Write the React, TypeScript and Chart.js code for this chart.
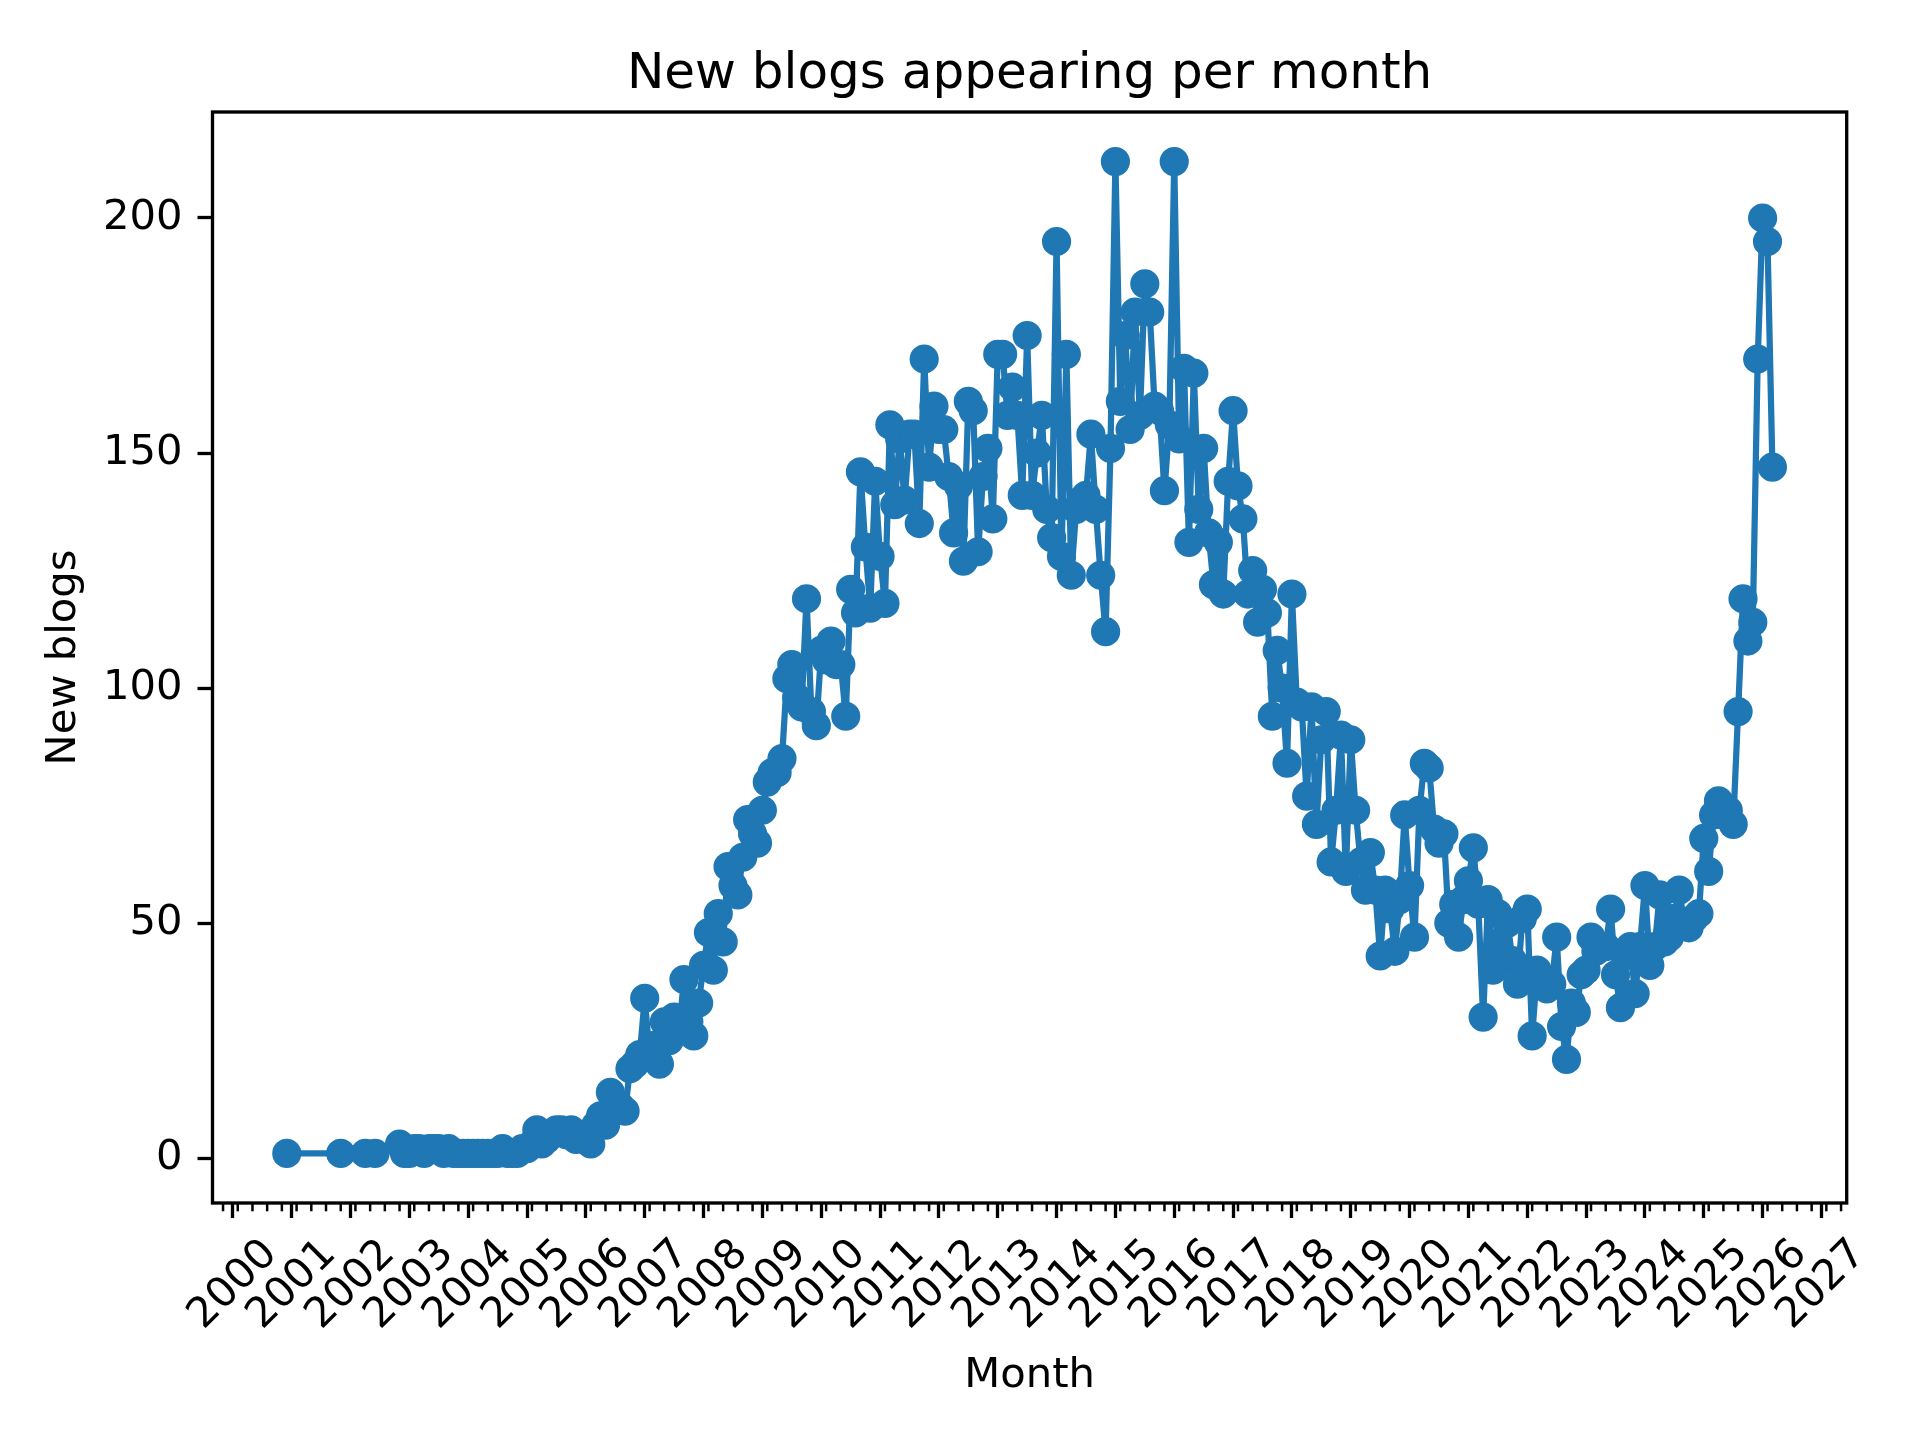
import { useEffect, useRef } from "react"
import { Chart, registerables } from "chart.js"

Chart.register(...registerables)

// month of each observation (YYYY-MM), early years are sparse
const months = [
  "2000-12",
  "2001-11",
  "2002-04", "2002-06", "2002-11", "2002-12",
  "2003-01", "2003-02", "2003-03", "2003-04", "2003-05", "2003-06", "2003-07", "2003-08", "2003-09", "2003-10", "2003-11", "2003-12",
  "2004-01", "2004-02", "2004-03", "2004-04", "2004-05", "2004-06", "2004-07", "2004-08", "2004-09", "2004-10", "2004-11", "2004-12",
  "2005-01", "2005-02", "2005-03", "2005-04", "2005-05", "2005-06", "2005-07", "2005-08", "2005-09", "2005-10", "2005-11", "2005-12",
  "2006-01", "2006-02", "2006-03", "2006-04", "2006-05", "2006-06", "2006-07", "2006-08", "2006-09", "2006-10", "2006-11", "2006-12",
  "2007-01", "2007-02", "2007-03", "2007-04", "2007-05", "2007-06", "2007-07", "2007-08", "2007-09", "2007-10", "2007-11", "2007-12",
  "2008-01", "2008-02", "2008-03", "2008-04", "2008-05", "2008-06", "2008-07", "2008-08", "2008-09", "2008-10", "2008-11", "2008-12",
  "2009-01", "2009-02", "2009-03", "2009-04", "2009-05", "2009-06", "2009-07", "2009-08", "2009-09", "2009-10", "2009-11", "2009-12",
  "2010-01", "2010-02", "2010-03", "2010-04", "2010-05", "2010-06", "2010-07", "2010-08", "2010-09", "2010-10", "2010-11", "2010-12",
  "2011-01", "2011-02", "2011-03", "2011-04", "2011-05", "2011-06", "2011-07", "2011-08", "2011-09", "2011-10", "2011-11", "2011-12",
  "2012-01", "2012-02", "2012-03", "2012-04", "2012-05", "2012-06", "2012-07", "2012-08", "2012-09", "2012-10", "2012-11", "2012-12",
  "2013-01", "2013-02", "2013-03", "2013-04", "2013-05", "2013-06", "2013-07", "2013-08", "2013-09", "2013-10", "2013-11", "2013-12",
  "2014-01", "2014-02", "2014-03", "2014-04", "2014-05", "2014-06", "2014-07", "2014-08", "2014-09", "2014-10", "2014-11", "2014-12",
  "2015-01", "2015-02", "2015-03", "2015-04", "2015-05", "2015-06", "2015-07", "2015-08", "2015-09", "2015-10", "2015-11", "2015-12",
  "2016-01", "2016-02", "2016-03", "2016-04", "2016-05", "2016-06", "2016-07", "2016-08", "2016-09", "2016-10", "2016-11", "2016-12",
  "2017-01", "2017-02", "2017-03", "2017-04", "2017-05", "2017-06", "2017-07", "2017-08", "2017-09", "2017-10", "2017-11", "2017-12",
  "2018-01", "2018-02", "2018-03", "2018-04", "2018-05", "2018-06", "2018-07", "2018-08", "2018-09", "2018-10", "2018-11", "2018-12",
  "2019-01", "2019-02", "2019-03", "2019-04", "2019-05", "2019-06", "2019-07", "2019-08", "2019-09", "2019-10", "2019-11", "2019-12",
  "2020-01", "2020-02", "2020-03", "2020-04", "2020-05", "2020-06", "2020-07", "2020-08", "2020-09", "2020-10", "2020-11", "2020-12",
  "2021-01", "2021-02", "2021-03", "2021-04", "2021-05", "2021-06", "2021-07", "2021-08", "2021-09", "2021-10", "2021-11", "2021-12",
  "2022-01", "2022-02", "2022-03", "2022-04", "2022-05", "2022-06", "2022-07", "2022-08", "2022-09", "2022-10", "2022-11", "2022-12",
  "2023-01", "2023-02", "2023-03", "2023-04", "2023-05", "2023-06", "2023-07", "2023-08", "2023-09", "2023-10", "2023-11", "2023-12",
  "2024-01", "2024-02", "2024-03", "2024-04", "2024-05", "2024-06", "2024-07", "2024-08", "2024-09", "2024-10", "2024-11", "2024-12",
  "2025-01", "2025-02", "2025-03", "2025-04", "2025-05", "2025-06", "2025-07", "2025-08", "2025-09", "2025-10", "2025-11", "2025-12",
  "2026-01", "2026-02", "2026-03",
]

const newBlogs = [
  1,
  1,
  1, 1, 3, 1,
  1, 2, 2, 1, 2, 2, 2, 1, 2, 1, 1, 1,
  1, 1, 1, 1, 1, 1, 1, 2, 1, 1, 1, 2,
  2, 3, 6, 3, 4, 5, 6, 6, 5, 6, 4, 5,
  4, 3, 7, 9, 7, 14, 10, 11, 10, 19, 20, 22,
  34, 22, 24, 20, 29, 25, 30, 27, 38, 29, 26, 33,
  41, 48, 40, 52, 46, 62, 58, 56, 64, 72, 69, 67,
  74, 80, 82, 82, 85, 102, 105, 98, 96, 119, 95, 92,
  108, 106, 110, 105, 105, 94, 121, 116, 146, 130, 117, 144,
  128, 118, 156, 139, 153, 140, 154, 154, 135, 170, 147, 160,
  155, 155, 145, 133, 143, 127, 161, 159, 129, 145, 151, 136,
  171, 171, 158, 164, 158, 141, 175, 141, 150, 158, 138, 132,
  195, 128, 171, 124, 138, 140, 141, 154, 138, 124, 112, 151,
  212, 161, 175, 155, 180, 158, 186, 180, 160, 159, 142, 156,
  212, 153, 168, 131, 167, 138, 151, 133, 122, 131, 120, 144,
  159, 143, 136, 120, 125, 114, 121, 116, 94, 108, 100, 84,
  120, 97, 96, 77, 96, 71, 89, 95, 63, 74, 90, 61,
  89, 74, 63, 57, 65, 57, 43, 57, 53, 44, 55, 73,
  58, 47, 74, 84, 83, 70, 67, 69, 50, 54, 47, 55,
  59, 66, 54, 30, 55, 40, 52, 43, 50, 42, 37, 51,
  53, 26, 40, 37, 36, 37, 47, 28, 21, 33, 31, 39,
  40, 47, 44, 45, 45, 53, 39, 32, 43, 45, 35, 45,
  58, 41, 45, 56, 46, 47, 51, 57, 50, 49, 51, 52,
  68, 61, 73, 76, 73, 74, 71, 95, 119, 110, 114, 170,
  200, 195, 147,
]

const yearTicks = [
  2000, 2001, 2002, 2003, 2004, 2005, 2006, 2007, 2008, 2009, 2010, 2011, 2012, 2013,
  2014, 2015, 2016, 2017, 2018, 2019, 2020, 2021, 2022, 2023, 2024, 2025, 2026, 2027,
]
const countTicks = [0, 50, 100, 150, 200]
const minorTickMonths = [2, 5, 8, 11]

const FONT = "DejaVu Sans"
const BLUE = "#1f77b4"

const toYear = (m: string) => {
  const [y, mo] = m.split("-").map(Number)
  return y + (mo - 1) / 12
}

// matplotlib style frame and quarterly minor ticks
const framePlugin = {
  id: "frame",
  afterDraw(chart: Chart) {
    const { ctx, chartArea: a } = chart
    const xs = chart.scales.x
    ctx.save()
    ctx.strokeStyle = "#000"
    ctx.lineWidth = 2.5
    for (let y = Math.floor(xs.min); y <= Math.ceil(xs.max); y++) {
      for (const m of minorTickMonths) {
        const v = y + (m - 1) / 12
        if (v < xs.min || v > xs.max) continue
        const px = xs.getPixelForValue(v)
        ctx.beginPath()
        ctx.moveTo(px, a.bottom)
        ctx.lineTo(px, a.bottom + 8.3)
        ctx.stroke()
      }
    }
    ctx.lineWidth = 3.33
    ctx.strokeRect(a.left, a.top, a.right - a.left, a.bottom - a.top)
    ctx.restore()
  },
}

export default function App() {
  const chartRef = useRef<HTMLCanvasElement | null>(null)
  const chartInstance = useRef<Chart | null>(null)

  useEffect(() => {
    document.body.style.margin = "0"
    if (!chartRef.current) return
    const ctx = chartRef.current.getContext("2d")
    if (!ctx) return
    if (chartInstance.current) chartInstance.current.destroy()

    const xs = months.map(toYear)
    const xSpan = xs[xs.length - 1] - xs[0]
    const yLo = Math.min(...newBlogs)
    const yHi = Math.max(...newBlogs)
    const ySpan = yHi - yLo

    const tickFont = { family: FONT, size: 41.7, weight: "normal" as const }
    const grid = {
      drawOnChartArea: false,
      drawTicks: true,
      tickLength: 15,
      tickWidth: 3.3,
      tickColor: "#000",
    }

    chartInstance.current = new Chart(ctx, {
      type: "line",
      data: {
        datasets: [
          {
            data: months.map((m, i) => ({ x: toYear(m), y: newBlogs[i] })),
            borderColor: BLUE,
            backgroundColor: BLUE,
            borderWidth: 6.25,
            borderJoinStyle: "round",
            pointRadius: 12.5,
            pointBorderWidth: 4.2,
            pointBorderColor: BLUE,
            pointBackgroundColor: BLUE,
            tension: 0,
            fill: false,
          },
        ],
      },
      options: {
        responsive: false,
        devicePixelRatio: 1,
        animation: false,
        layout: { padding: { left: 0, right: 73.3, top: 0, bottom: 0 } },
        plugins: {
          legend: { display: false },
          tooltip: { enabled: false },
          title: {
            display: true,
            fullSize: false,
            text: "New blogs appearing per month",
            color: "#000",
            font: { family: FONT, size: 50, weight: "normal" },
            padding: { top: 45, bottom: 7 },
          },
        },
        scales: {
          x: {
            type: "linear",
            bounds: "data",
            min: xs[0] - 0.05 * xSpan,
            max: xs[xs.length - 1] + 0.05 * xSpan,
            afterBuildTicks: (s: any) => {
              s.ticks = yearTicks.map((v) => ({ value: v }))
            },
            afterFit: (s: any) => {
              s.height = 237
            },
            grid,
            border: { display: false },
            ticks: {
              autoSkip: false,
              minRotation: 45,
              maxRotation: 45,
              labelOffset: 38,
              padding: 12,
              color: "#000",
              font: tickFont,
              callback: (v: any) => String(v),
            },
            title: {
              display: true,
              text: "Month",
              color: "#000",
              font: tickFont,
              padding: { top: 0, bottom: 39 },
            },
          },
          y: {
            type: "linear",
            bounds: "data",
            min: yLo - 0.05 * ySpan,
            max: yHi + 0.05 * ySpan,
            afterBuildTicks: (s: any) => {
              s.ticks = countTicks.map((v) => ({ value: v }))
            },
            afterFit: (s: any) => {
              s.width = 212.5
            },
            grid,
            border: { display: false },
            ticks: {
              padding: 15,
              color: "#000",
              font: tickFont,
              callback: (v: any) => String(v),
            },
            title: {
              display: true,
              text: "New blogs",
              color: "#000",
              font: tickFont,
              padding: { top: 39, bottom: 0 },
            },
          },
        },
      },
      plugins: [framePlugin],
    })

    return () => {
      if (chartInstance.current) {
        chartInstance.current.destroy()
        chartInstance.current = null
      }
    }
  }, [])

  return <canvas ref={chartRef} width={1920} height={1440} style={{ display: "block" }} />
}
